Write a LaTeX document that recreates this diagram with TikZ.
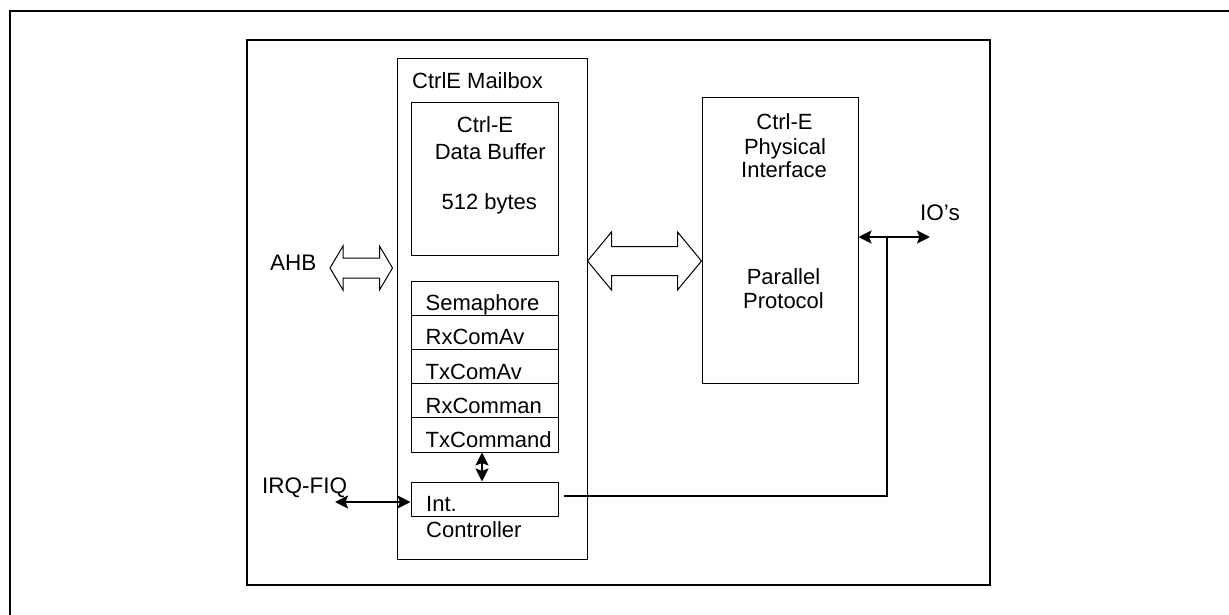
\documentclass[tikz,border=0pt]{standalone}
\usepackage{fontspec}
\setmainfont{Liberation Sans}
\usetikzlibrary{calc,arrows.meta}
\tikzset{
  box/.style={draw, line width=1pt, inner sep=0pt},
  txt/.style={inner sep=0pt, font=\fontsize{22}{26}\selectfont},
  sig/.style={inner sep=0pt, font=\fontsize{22.5}{26}\selectfont},
  wire/.style={line width=1.5pt},
  dbl/.style={line width=2.4pt, {Stealth[length=13pt,width=13pt,inset=2.5pt]}-{Stealth[length=13pt,width=13pt,inset=2.5pt]}},
  hollow/.style={draw, line width=1pt, fill=white, line join=miter},
}
% hollow double-headed bus arrow:
% #1 left tip, #2 right tip, #3 half shaft width, #4 half head width, #5 head length
\newcommand\hollowdbl[5]{%
  \draw[hollow] let \p1=(#1), \p2=(#2) in
    (\x1,\y1) -- (\x1+#5,\y1+#4) -- (\x1+#5,\y1+#3) -- (\x2-#5,\y1+#3)
    -- (\x2-#5,\y1+#4) -- (\x2,\y1) -- (\x2-#5,\y1-#4) -- (\x2-#5,\y1-#3)
    -- (\x1+#5,\y1-#3) -- (\x1+#5,\y1-#4) -- cycle;}
\begin{document}
\begin{tikzpicture}[x=1pt,y=-1pt]
\useasboundingbox (0,0) rectangle (1229,615);

% outer frame, running off the right and bottom edges
\draw[line width=2.2pt] (10,630) -- (10,11) -- (1240,11);

% inner frame
\node[box, line width=1.4pt, minimum width=743pt, minimum height=545pt] (frame) at (618.5,312.5) {};

% mailbox
\node[box, minimum width=190pt, minimum height=500pt] (mb) at (492,309) {};
\node[txt, anchor=base west] (mbt) at (412,89) {CtrlE Mailbox};

% data buffer
\node[box, minimum width=147pt, minimum height=152pt] (buf) at (484.5,179) {};
\node[txt, anchor=base] (b1) at (485,133) {Ctrl-E};
\node[txt, anchor=base] (b2) at (490.3,159.5) {Data Buffer};
\node[txt, anchor=base] (b3) at (489.3,209) {512 bytes};

% register stack
\foreach \i/\y/\t in {1/298.1/Semaphore, 2/332.3/RxComAv, 3/366.5/TxComAv, 4/400.7/RxComman, 5/434.9/TxCommand}{
  \node[box, minimum width=147pt, minimum height=34.2pt] (r\i) at (484.5,\y) {};
  \node[txt, anchor=base west] (r\i t) at ($(r\i.south west)+(15,-5)$) {\t};
}

% interrupt controller
\node[box, minimum width=147pt, minimum height=34pt] (int) at (484.5,499) {};
\node[txt, anchor=base west] (int1) at (426,511) {Int.};
\node[txt, anchor=base west] (int2) at (426,537) {Controller};

% physical interface
\node[box, minimum width=156pt, minimum height=285pt] (phys) at (780,240.5) {};
\node[txt, anchor=base] (p1) at (784.5,130) {Ctrl-E};
\node[txt, anchor=base] (p2) at (785,155) {Physical};
\node[txt, anchor=base] (p3) at (784,178) {Interface};
\node[txt, anchor=base] (p4) at (783.5,284) {Parallel};
\node[txt, anchor=base] (p5) at (783.5,308) {Protocol};

% AHB bus
\node[sig, anchor=base west] (ahb) at (270,270.7) {AHB};
\coordinate (ahbL) at (330,268);
\coordinate (ahbR) at ($(mb.west |- 0,268)+(-4,0)$);
\hollowdbl{ahbL}{ahbR}{10pt}{22pt}{13pt}

% mailbox <-> physical interface bus
\coordinate (busL) at (mb.east |- 0,261);
\coordinate (busR) at (phys.west |- 0,261);
\hollowdbl{busL}{busR}{14.5pt}{29pt}{24pt}

% register stack <-> interrupt controller
\draw[dbl] ($(r5.south)+(-2.5,0)$) -- ($(int.north)+(-2.5,0)$);

% interrupt request line
\node[sig, anchor=base west] (irq) at (262,493) {IRQ-FIQ};
\coordinate (irqEnd) at (335,502);
\draw[dbl] (irqEnd) -- (int.west |- irqEnd);

% IO pins
\node[sig, anchor=base west] (io) at (920,220) {IO’s};
\coordinate (ioEnd) at (930,237);
\draw[dbl] (phys.east |- ioEnd) -- (ioEnd);

% controller tap onto the IO line
\coordinate (tap) at (887,237);
\draw[wire] ($(int.east)+(5,-3)$) -| (tap);
\end{tikzpicture}
\end{document}
